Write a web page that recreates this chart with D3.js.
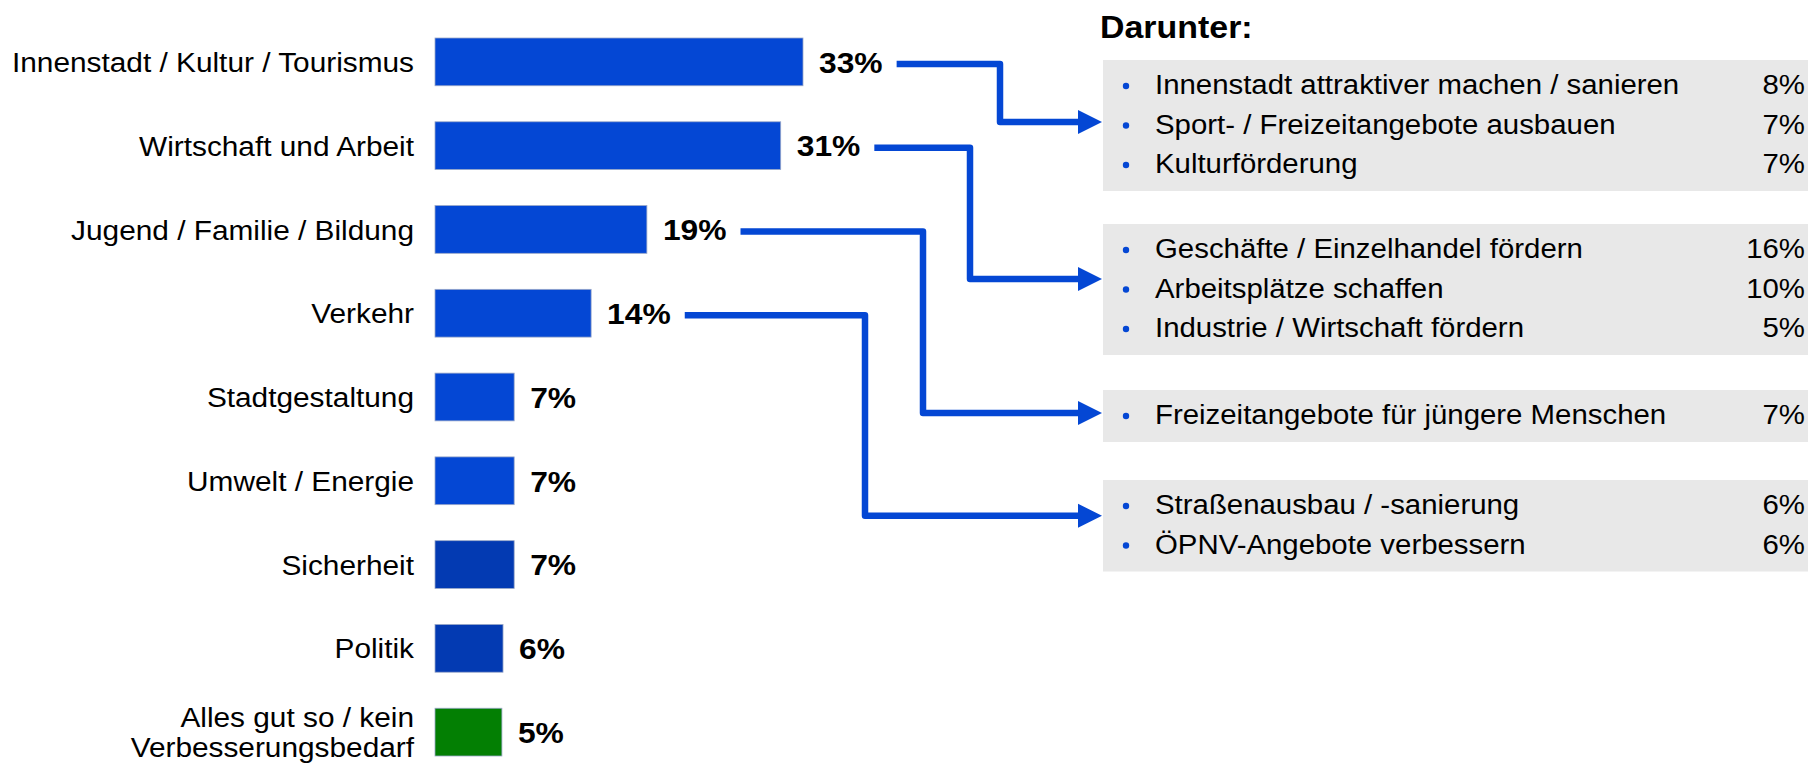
<!DOCTYPE html>
<html>
<head>
<meta charset="utf-8">
<script src="https://cdn.jsdelivr.net/npm/d3@7"></script>
<style>
  body { margin: 0; background: #fff; }
  svg { display: block; font-family: "Liberation Sans", Arial, sans-serif; }
</style>
</head>
<body>
<svg id="chart" width="1820" height="765"></svg>
<script>
// categories (top to bottom) and their shares
const categories = [
  "Innenstadt / Kultur / Tourismus",
  "Wirtschaft und Arbeit",
  "Jugend / Familie / Bildung",
  "Verkehr",
  "Stadtgestaltung",
  "Umwelt / Energie",
  "Sicherheit",
  "Politik",
  "Alles gut so / kein|Verbesserungsbedarf"
];
const values = [33, 31, 19, 14, 7.1, 7.1, 7.1, 6.1, 6.0];
const valueLabels = ["33%", "31%", "19%", "14%", "7%", "7%", "7%", "6%", "5%"];
const barGroup = ["main", "main", "main", "main", "main", "main", "dark", "dark", "ok"];

// "Darunter" detail boxes, linked to the first four categories
const detailItems = [
  ["Innenstadt attraktiver machen / sanieren", "Sport- / Freizeitangebote ausbauen", "Kulturförderung"],
  ["Geschäfte / Einzelhandel fördern", "Arbeitsplätze schaffen", "Industrie / Wirtschaft fördern"],
  ["Freizeitangebote für jüngere Menschen"],
  ["Straßenausbau / -sanierung", "ÖPNV-Angebote verbessern"]
];
const detailValues = [
  ["8%", "7%", "7%"],
  ["16%", "10%", "5%"],
  ["7%"],
  ["6%", "6%"]
];

const colors = { main: "#0447d4", dark: "#033ab2", ok: "#037f03" };
const lineColor = "#0447d4";

const svg = d3.select("#chart");

// text is a little wider than the plain font in the original
function addText(parent, tx, ty, str, size, sx, anchor, bold) {
  return parent.append("text")
    .attr("transform", `translate(${tx},${ty}) scale(${sx},1)`)
    .attr("dy", "0.36em")
    .attr("font-size", size)
    .attr("font-weight", bold ? "bold" : null)
    .attr("text-anchor", anchor || "start")
    .attr("fill", "#000")
    .text(str);
}

// scales
const x = d3.scaleLinear().domain([0, 33]).range([435, 803]);
const y = d3.scaleBand().domain(d3.range(categories.length)).range([38, 756]).paddingInner(0.43);

// bars
svg.append("g").selectAll("rect")
  .data(values)
  .join("rect")
  .attr("x", x(0))
  .attr("y", (d, i) => y(i))
  .attr("width", d => x(d) - x(0))
  .attr("height", y.bandwidth())
  .attr("fill", (d, i) => colors[barGroup[i]])
  .attr("stroke", "#9aa8c8")
  .attr("stroke-width", 0.8);

// category labels
const catG = svg.append("g");
categories.forEach((c, i) => {
  const lines = c.split("|");
  const cy = y(i) + y.bandwidth() / 2;
  const lh = 30;
  lines.forEach((ln, j) => {
    addText(catG, 414, cy + (j - (lines.length - 1) / 2) * lh, ln, 28, 1.065, "end");
  });
});

// value labels
const valG = svg.append("g");
const valEnds = values.map((d, i) => {
  const t = addText(valG, x(d) + 16, y(i) + y.bandwidth() / 2, valueLabels[i], 30, 1.06, "start", true);
  return x(d) + 16 + t.node().getBBox().width * 1.06;
});

// right panel
addText(svg, 1100, 26, "Darunter:", 32, 1.06, "start", true);

const boxLeft = 1103, boxRight = 1808, rowH = 39.5, pad = 26;
const gaps = [33, 35, 38];
let boxTop = 60;
const boxes = detailItems.map((items, gi) => {
  const h = pad * 2 + (items.length - 1) * rowH;
  const b = { top: boxTop, h, mid: boxTop + h / 2 };
  boxTop += h + (gaps[gi] || 0);
  return b;
});

const boxG = svg.append("g");
detailItems.forEach((items, gi) => {
  const b = boxes[gi];
  const g = boxG.append("g");
  g.append("rect")
    .attr("x", boxLeft)
    .attr("y", b.top)
    .attr("width", boxRight - boxLeft)
    .attr("height", b.h)
    .attr("fill", "#e8e8e8");
  items.forEach((t, k) => {
    const cy = b.top + pad + k * rowH;
    g.append("circle")
      .attr("cx", 1126)
      .attr("cy", cy)
      .attr("r", 3.2)
      .attr("fill", lineColor);
    addText(g, 1155, cy - 2, t, 28, 1.05, "start");
    addText(g, 1805, cy - 2, detailValues[gi][k], 28, 1.05, "end");
  });
});

// connectors from the first four bars to their boxes
const elbowX = [1000, 970, 923, 865];
const arrowShift = [-3.5, -10.5, -3, -10];
const arrowW = 24, arrowH = 24;
const connG = svg.append("g");
detailItems.forEach((items, gi) => {
  const x0 = valEnds[gi] + 14;
  const y0 = y(gi) + y.bandwidth() / 2 + 2;
  const y1 = boxes[gi].mid + arrowShift[gi];
  const tip = boxLeft - 1;
  const path = d3.path();
  path.moveTo(x0, y0);
  path.lineTo(elbowX[gi], y0);
  path.lineTo(elbowX[gi], y1);
  path.lineTo(tip - arrowW + 2, y1);
  connG.append("path")
    .attr("d", path.toString())
    .attr("fill", "none")
    .attr("stroke", lineColor)
    .attr("stroke-width", 6.5)
    .attr("stroke-linejoin", "round");
  connG.append("path")
    .attr("d", `M${tip},${y1}L${tip - arrowW},${y1 - arrowH / 2}L${tip - arrowW},${y1 + arrowH / 2}Z`)
    .attr("fill", lineColor);
});
</script>
</body>
</html>
